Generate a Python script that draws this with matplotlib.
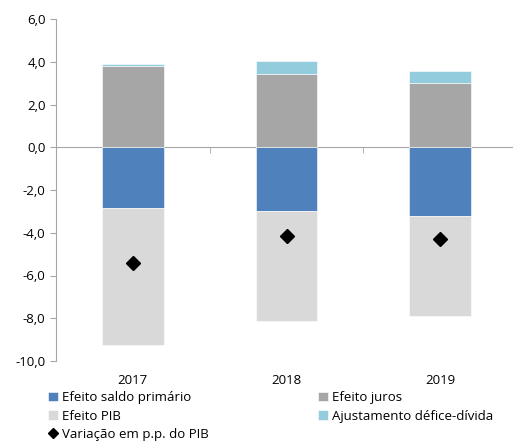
import numpy as np
import matplotlib.pyplot as plt
from matplotlib.ticker import FuncFormatter

years = ["2017", "2018", "2019"]
saldo_primario = [-2.85, -2.96, -3.21]
efeito_juros = [3.81, 3.41, 3.02]
efeito_pib = [-6.42, -5.19, -4.67]
ajustamento = [0.08, 0.61, 0.55]
variacao = [-5.40, -4.16, -4.30]

c_blue = "#4F81BD"
c_gray = "#A6A6A6"
c_light = "#D9D9D9"
c_cyan = "#93CDDD"
axis_col = "#A6A6A6"

plt.rcParams['font.family'] = ['Open Sans', 'DejaVu Sans']
plt.rcParams['font.size'] = 9.5

fig = plt.figure(figsize=(5.13, 4.47), dpi=100)
ax = fig.add_axes([56 / 513, 1 - 361 / 447, 461 / 513, 342 / 447])

x = np.arange(len(years))
w = 0.4
sp = np.array(saldo_primario)
jr = np.array(efeito_juros)

b1 = ax.bar(x, sp, w, color=c_blue, edgecolor="white", linewidth=0.4)
b2 = ax.bar(x, efeito_juros, w, color=c_gray, edgecolor="white", linewidth=0.4)
b3 = ax.bar(x, efeito_pib, w, bottom=sp, color=c_light, edgecolor="white", linewidth=0.4)
b4 = ax.bar(x, ajustamento, w, bottom=jr, color=c_cyan, edgecolor="white", linewidth=0.4)
m, = ax.plot(x, variacao, linestyle="none", marker="D", color="black", markersize=7)

ax.set_xlim(-0.5, 2.5)
ax.set_ylim(-10, 6)
ax.set_yticks(np.arange(-10, 7, 2))
ax.yaxis.set_major_formatter(FuncFormatter(lambda v, p: f"{v:.1f}".replace(".", ",")))
ax.tick_params(axis="y", length=4, color=axis_col, labelsize=9.5)

for s in ["top", "right"]:
    ax.spines[s].set_visible(False)
ax.spines["left"].set_color(axis_col)
ax.spines["bottom"].set_position(("data", 0))
ax.spines["bottom"].set_color(axis_col)
ax.spines["bottom"].set_zorder(0.5)
ax.set_xticks(x)
ax.set_xticklabels([])
ax.tick_params(axis="x", which="major", length=0)
ax.set_xticks([0.5, 1.5], minor=True)
ax.tick_params(axis="x", which="minor", length=4, direction="out", color=axis_col)

# year labels sit below the plot area, not on the zero line
sec = ax.secondary_xaxis("bottom")
sec.set_xticks(x)
sec.set_xticklabels(years)
sec.tick_params(length=0, pad=9, labelsize=9.5)
sec.spines["bottom"].set_visible(False)

handles = [b1, b3, m, b2, b4]
labels = ["Efeito saldo primário", "Efeito PIB", "Variação em p.p. do PIB",
          "Efeito juros", "Ajustamento défice-dívida"]
fig.legend(handles, labels, ncol=2, loc="upper left", bbox_to_anchor=(48 / 513, 1 - 391 / 447),
           frameon=False, handlelength=0.75, handleheight=0.75, handletextpad=0.3,
           labelspacing=0.42, columnspacing=8.3, borderaxespad=0, borderpad=0,
           markerscale=0.75, fontsize=9.5)

fig.savefig("out.png", dpi=100)
